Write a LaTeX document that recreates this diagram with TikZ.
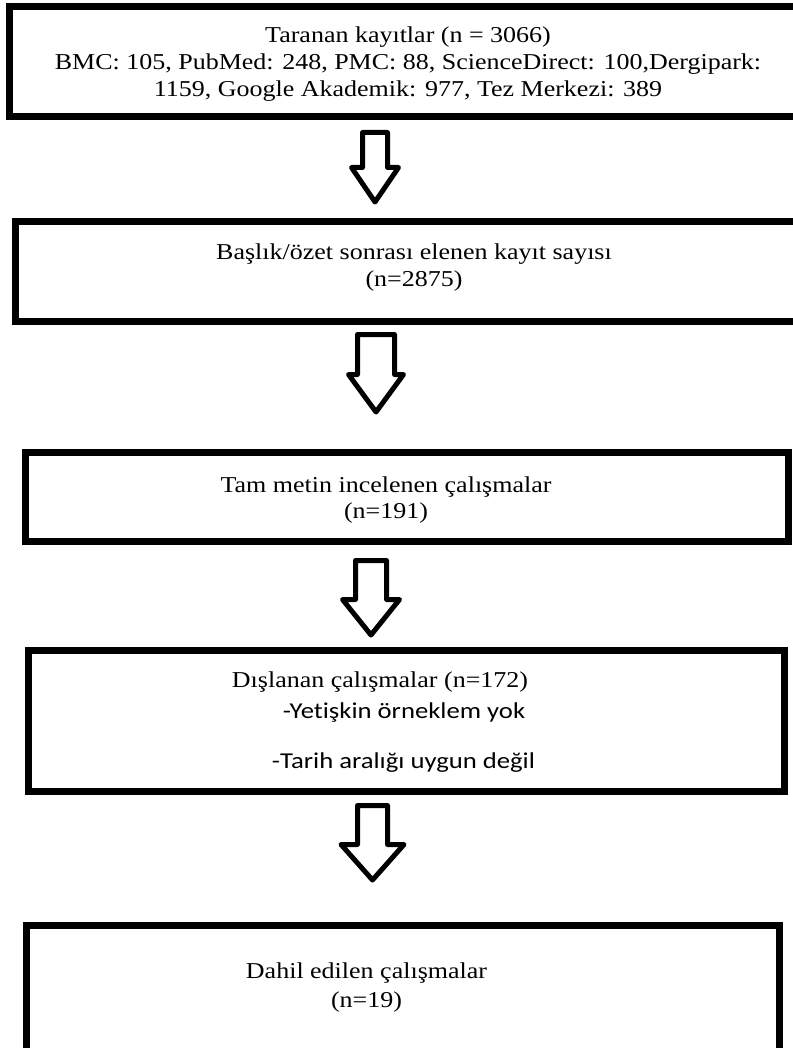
\documentclass[tikz,border=0pt]{standalone}
\usepackage{fontspec}
\setmainfont[FakeStretch=1.145]{Liberation Serif}
\newfontfamily\bodysans[FakeStretch=1.175, Ligatures=NoCommon]{Carlito}
\usepackage{tikz}
\usetikzlibrary{calc}

\tikzset{
  box/.style={draw=black, line width=7pt, inner sep=0pt, rectangle},
  txt/.style={anchor=base, inner sep=0pt, font=\fontsize{22.7}{27}\selectfont},
  sanstxt/.style={txt, font=\fontsize{22.7}{27}\selectfont\bodysans},
  arrowline/.style={draw=black, line width=5pt, line join=round}
}

% hollow down arrow: coordinate, shaft half width, head half width, neck depth, length
\newcommand{\flowarrow}[5]{%
  \draw[arrowline] ($(#1)+(-#2,0)$) -- ($(#1)+(#2,0)$) -- ($(#1)+(#2,#4)$)
    -- ($(#1)+(#3,#4)$) -- ($(#1)+(0,#5)$) -- ($(#1)+(-#3,#4)$)
    -- ($(#1)+(-#2,#4)$) -- cycle;}

\begin{document}
\begin{tikzpicture}[x=1pt, y=-1pt]
        \useasboundingbox (0,0) rectangle (792,1048);
        \fill[white] (0,0) rectangle (792,1048);

        % boxes
        \node[box, minimum width=786.5pt, minimum height=110pt] (screened) at (402.75,61.5) {};
        \node[box, minimum width=780.5pt, minimum height=100pt] (titleabs) at (405.75,271.5) {};
        \node[box, minimum width=763pt, minimum height=89pt] (fulltext) at (407,497) {};
        \node[box, minimum width=756pt, minimum height=141pt] (excluded) at (406.5,721) {};
        \node[box, minimum width=753pt, minimum height=126.5pt] (included) at (403,988.75) {};

        % texts
        \node[txt] (s1) at (408,43) {Taranan kayıtlar (n = 3066)};
        \node[txt] (s2) at (408,70) {BMC: 105, PubMed: 248, PMC: 88, ScienceDirect: 100,Dergipark:};
        \node[txt] (s3) at (408,97) {1159, Google Akademik: 977, Tez Merkezi: 389};
        \node[txt] (t1) at (414,260) {Başlık/özet sonrası elenen kayıt sayısı};
        \node[txt] (t2) at (414,287) {(n=2875)};
        \node[txt] (f1) at (386,492) {Tam metin incelenen çalışmalar};
        \node[txt] (f2) at (386,518) {(n=191)};
        \node[txt] (e1) at (380,687) {Dışlanan çalışmalar (n=172)};
        \node[sanstxt] (e2) at (404,718) {-Yetişkin örneklem yok};
        \node[sanstxt] (e3) at (403.5,768) {-Tarih aralığı uygun değil};
        \node[txt] (i1) at (366.5,978) {Dahil edilen çalışmalar};
        \node[txt] (i2) at (366.5,1007) {(n=19)};

        % arrows
        \coordinate (a1) at (375,132.5);
        \coordinate (a2) at (376,334.5);
        \coordinate (a3) at (371,560.5);
        \coordinate (a4) at (372.5,805.5);
        \flowarrow{a1}{12.5}{23.5}{35}{69.5}
        \flowarrow{a2}{18.5}{27.5}{40}{77.5}
        \flowarrow{a3}{15.5}{28.5}{39}{74.5}
        \flowarrow{a4}{15}{31.5}{39}{74.5}
    \end{tikzpicture}
\end{document}
